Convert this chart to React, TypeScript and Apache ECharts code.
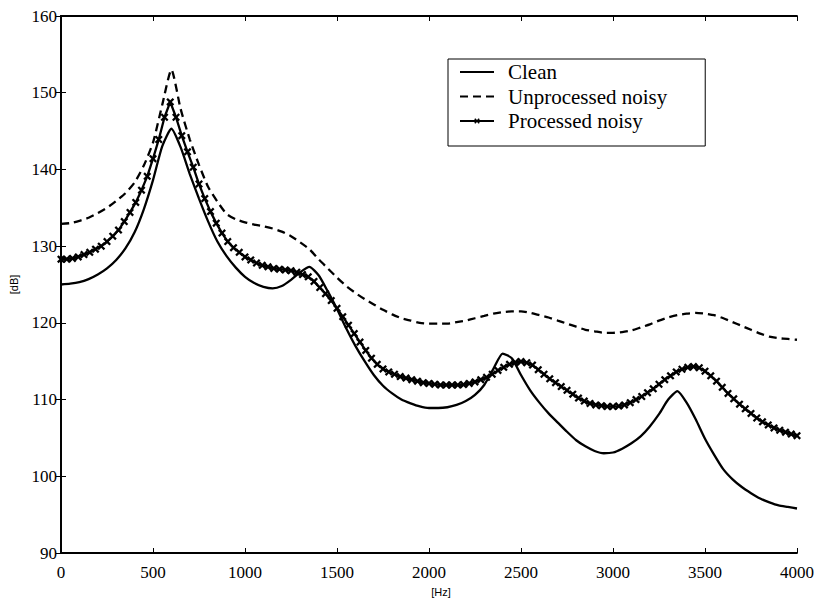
import React, { useEffect, useRef } from "react";
import * as echarts from "echarts";

// Frequency grid (Hz) for clean & unprocessed series
const coarseStep = 50;
// Clean spectrum (dB), every 50 Hz from 0 to 4000
const cleanDb = [
  125.0, 125.1, 125.3, 125.7, 126.3, 127.1, 128.2, 129.7, 131.8, 134.8,
  138.6, 143.0, 145.3, 142.9, 139.4, 136.2, 133.2, 130.6, 128.7, 127.2,
  126.0, 125.2, 124.7, 124.5, 124.8, 125.6, 126.6, 127.3, 126.2, 124.1,
  121.8, 119.3, 117.0, 115.0, 113.2, 111.8, 110.8, 110.0, 109.5, 109.1,
  108.9, 108.9, 109.0, 109.3, 109.8, 110.6, 111.9, 114.0, 116.0, 115.4,
  113.2, 111.2, 109.6, 108.2, 107.0, 105.8, 104.7, 103.9, 103.3, 103.0,
  103.1, 103.6, 104.3, 105.2, 106.5, 108.1, 110.0, 111.1, 109.6, 107.4,
  104.9, 102.8, 100.9, 99.6, 98.6, 97.8, 97.1, 96.6, 96.2, 96.0,
  95.8,
];
// Unprocessed noisy spectrum (dB), every 50 Hz
const unprocessedDb = [
  132.9, 133.0, 133.3, 133.7, 134.3, 135.0, 135.9, 136.9, 138.3, 140.5,
  143.5, 148.4, 153.0, 147.9, 143.9, 140.6, 137.7, 135.8, 134.2, 133.5,
  133.1, 132.8, 132.6, 132.3, 131.9, 131.3, 130.5, 129.6, 128.3, 127.1,
  125.9, 124.8, 123.9, 123.1, 122.4, 121.7, 121.1, 120.6, 120.3, 120.0,
  119.9, 119.9, 119.9, 120.1, 120.3, 120.6, 120.9, 121.2, 121.4, 121.5,
  121.5, 121.3, 121.0, 120.7, 120.3, 119.9, 119.5, 119.1, 118.9, 118.7,
  118.7, 118.8, 119.0, 119.4, 119.8, 120.3, 120.7, 121.0, 121.2, 121.3,
  121.2, 121.0, 120.6, 120.1, 119.6, 119.1, 118.6, 118.2, 118.0, 117.9,
  117.8,
];
// Processed noisy spectrum (dB), every 31.25 Hz (129 bins)
const fineStep = 31.25;
const processedDb = [
  128.3, 128.3, 128.4, 128.6, 128.9, 129.2, 129.6, 130.0, 130.6, 131.3,
  132.1, 133.2, 134.4, 135.7, 137.3, 139.1, 141.4, 143.9, 146.8, 148.8,
  146.8, 144.4, 142.3, 140.3, 138.1, 136.2, 134.5, 133.0, 131.7, 130.6,
  129.8, 129.2, 128.6, 128.2, 127.8, 127.5, 127.3, 127.1, 127.0, 126.9,
  126.8, 126.6, 126.3, 126.0, 125.4, 124.6, 123.8, 122.9, 121.9, 120.8,
  119.7, 118.6, 117.5, 116.4, 115.4, 114.6, 114.0, 113.6, 113.3, 113.0,
  112.8, 112.6, 112.4, 112.2, 112.1, 112.0, 111.9, 111.9, 111.9, 111.9,
  111.95, 112.1, 112.3, 112.6, 112.9, 113.3, 113.8, 114.2, 114.6, 114.85,
  114.95, 114.8, 114.5, 113.9, 113.3, 112.7, 112.2, 111.7, 111.2, 110.7,
  110.2, 109.8, 109.5, 109.3, 109.2, 109.1, 109.1, 109.15, 109.3, 109.6,
  110.0, 110.4, 110.9, 111.4, 112.0, 112.6, 113.1, 113.6, 113.95, 114.2,
  114.3, 114.15, 113.7, 113.1, 112.4, 111.6, 110.8, 110.1, 109.4, 108.8,
  108.2, 107.6, 107.1, 106.7, 106.3, 106.0, 105.75, 105.5, 105.3,
];

const seriesNames = ["Clean", "Unprocessed noisy", "Processed noisy"];
const xTicks = { min: 0, max: 4000, interval: 500 };
const yTicks = { min: 90, max: 160, interval: 10 };
const xAxisName = "[Hz]";
const yAxisName = "[dB]";

const serif = "'Liberation Serif', 'Times New Roman', serif";
const sans = "'Liberation Sans', Arial, sans-serif";
const crossSymbol =
  "path://M0,2 L2,0 L5,3 L8,0 L10,2 L7,5 L10,8 L8,10 L5,7 L2,10 L0,8 L3,5 Z";

export default function App() {
  const ref = useRef<HTMLDivElement>(null);
  useEffect(() => {
    if (!ref.current) return;
    const chart = echarts.init(ref.current, undefined, { renderer: "svg" });
    const toPairs = (arr: number[], step: number) => arr.map((v, i) => [i * step, v]);
    const axisCommon = {
      axisLine: { show: true, lineStyle: { color: "#000", width: 1.8 } },
      axisTick: { show: true, inside: true, length: 5, lineStyle: { color: "#000", width: 1 } },
      splitLine: { show: false },
    };
    chart.setOption({
      animation: false,
      backgroundColor: "#fff",
      grid: { left: 58, top: 16, right: 20, bottom: 44, containLabel: false },
      legend: {
        data: [
          { name: seriesNames[0], itemStyle: { opacity: 0 } },
          { name: seriesNames[1], itemStyle: { opacity: 0 } },
          { name: seriesNames[2] },
        ],
        orient: "vertical",
        left: 448,
        top: 59,
        backgroundColor: "#fff",
        borderColor: "#000",
        borderWidth: 1,
        padding: [1, 38, 13, 11],
        itemWidth: 34,
        itemHeight: 7,
        itemGap: 0.5,
        textStyle: {
          fontFamily: serif,
          fontSize: 21,
          lineHeight: 24,
          color: "#000",
          padding: [0, 0, 0, 9],
        },
      },
      xAxis: [
        {
          type: "value",
          ...xTicks,
          ...axisCommon,
          name: xAxisName,
          nameLocation: "middle",
          nameGap: 33,
          nameTextStyle: { fontFamily: sans, fontSize: 11, color: "#000", padding: [0, 0, 0, 24] },
          axisLabel: {
            fontFamily: serif,
            fontSize: 17,
            color: "#000",
            margin: 11,
            formatter: (v: number) => String(v),
          },
        },
        {
          type: "value",
          position: "top",
          ...xTicks,
          ...axisCommon,
          axisLabel: { show: false },
        },
      ],
      yAxis: [
        {
          type: "value",
          ...yTicks,
          ...axisCommon,
          name: yAxisName,
          nameLocation: "middle",
          nameGap: 42,
          nameRotate: 90,
          nameTextStyle: { fontFamily: sans, fontSize: 11, color: "#000" },
          axisLabel: {
            fontFamily: serif,
            fontSize: 17,
            color: "#000",
            margin: 4,
            formatter: (v: number) => String(v),
          },
        },
        {
          type: "value",
          position: "right",
          ...yTicks,
          ...axisCommon,
          axisLabel: { show: false },
        },
      ],
      series: [
        {
          name: seriesNames[0],
          type: "line",
          data: toPairs(cleanDb, coarseStep),
          showSymbol: false,
          symbol: "none",
          smooth: 0.2,
          lineStyle: { color: "#000", width: 2.3 },
          itemStyle: { color: "#000" },
        },
        {
          name: seriesNames[1],
          type: "line",
          data: toPairs(unprocessedDb, coarseStep),
          showSymbol: false,
          symbol: "none",
          smooth: 0.2,
          lineStyle: { color: "#000", width: 2.3, type: [8, 5] },
          itemStyle: { color: "#000" },
        },
        {
          name: seriesNames[2],
          type: "line",
          data: toPairs(processedDb, fineStep),
          symbol: crossSymbol,
          symbolSize: 8,
          showAllSymbol: true,
          lineStyle: { color: "#000", width: 2.3 },
          itemStyle: { color: "#000" },
        },
      ],
    });
    return () => chart.dispose();
  }, []);
  return <div ref={ref} style={{ width: 817, height: 602, position: "fixed", left: 0, top: 0 }} />;
}
